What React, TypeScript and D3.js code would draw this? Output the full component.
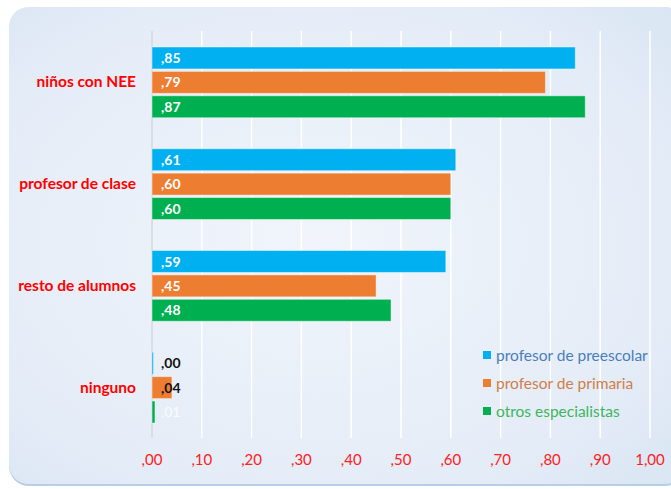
import React from "react";
import * as d3 from "d3";

const categories = ["niños con NEE", "profesor de clase", "resto de alumnos", "ninguno"];
const seriesNames = ["profesor de preescolar", "profesor de primaria", "otros especialistas"];
const preescolar = [0.85, 0.61, 0.59, 0.0];
const primaria = [0.79, 0.6, 0.45, 0.04];
const especialistas = [0.87, 0.6, 0.48, 0.006];
const ticks = [0, 0.1, 0.2, 0.3, 0.4, 0.5, 0.6, 0.7, 0.8, 0.9, 1.0];

const W = 671;
const H = 489;
const barColors = ["#00B0F0", "#ED7D31", "#00B050"];
const legendText = ["#4A7EBB", "#D07E48", "#3DB65C"];
const FONT = "Lato, 'Open Sans', sans-serif";

const fmt = (v: number) => {
  const s = v.toFixed(2).replace(".", ",");
  return s.startsWith("0") ? s.slice(1) : s;
};

export default function App() {
  const series = [preescolar, primaria, especialistas];
  const x = d3.scaleLinear().domain([0, 1]).range([152, 650]);
  const y = d3.scaleBand<string>().domain(categories).range([31, 438]).paddingInner(0).paddingOuter(0);
  const inner = d3
    .scaleBand<number>()
    .domain([0, 1, 2])
    .range([16, y.bandwidth() - 15])
    .paddingInner(0.1);

  const labelStyle = (ci: number, si: number) => {
    const v = series[si][ci];
    if (ci === 3 && si < 2) return { fill: "#111", weight: 700 };
    if (v < 0.02) return { fill: "rgba(255,255,255,0.8)", weight: 400 };
    return { fill: "#fff", weight: 700 };
  };

  return (
    <svg width={W} height={H} style={{ position: "absolute", left: 0, top: 0 }} fontFamily={FONT}>
      <defs>
        <radialGradient id="bg" cx="0.45" cy="0.5" r="0.75">
          <stop offset="0" stopColor="#F1F5FB" />
          <stop offset="0.7" stopColor="#E4ECF7" />
          <stop offset="1" stopColor="#D9E5F3" />
        </radialGradient>
        <linearGradient id="edge" x1="0" y1="0" x2="0" y2="1">
          <stop offset="0" stopColor="#E8EEF7" />
          <stop offset="1" stopColor="#B9CDE8" />
        </linearGradient>
      </defs>
      <rect x={9} y={7} width={676} height={479} rx={20} fill="url(#edge)" />
      <rect x={9} y={7} width={676} height={477} rx={20} fill="url(#bg)" />

      {ticks.map((t) => (
        <line
          key={t}
          x1={x(t)}
          x2={x(t)}
          y1={31}
          y2={438}
          stroke={t === 0 ? "#D4D8DE" : "#FFFFFF"}
          strokeWidth={1.5}
        />
      ))}

      {categories.map((c, ci) => (
        <g key={c} transform={`translate(0,${y(c)})`}>
          {series.map((s, si) => {
            const by = inner(si)!;
            const bh = inner.bandwidth();
            const st = labelStyle(ci, si);
            return (
              <g key={si}>
                <rect
                  x={x(0)}
                  y={by}
                  width={Math.max(x(s[ci]) - x(0), 1.5)}
                  height={bh}
                  fill={barColors[si]}
                  stroke="rgba(255,255,255,0.45)"
                  strokeWidth={1}
                />
                <text
                  x={x(0) + 9}
                  y={by + bh / 2}
                  dy="0.36em"
                  fontSize={14}
                  fontWeight={st.weight}
                  fill={st.fill}
                >
                  {fmt(s[ci])}
                </text>
              </g>
            );
          })}
          <text
            x={136}
            y={y.bandwidth() / 2}
            dy="0.36em"
            textAnchor="end"
            fontSize={15.5}
            fontWeight={700}
            fill="#FF0000"
          >
            {c}
          </text>
        </g>
      ))}

      {ticks.map((t) => (
        <text key={t} x={x(t)} y={460} dy="0.36em" textAnchor="middle" fontSize={15} fill="#FF2020">
          {fmt(t)}
        </text>
      ))}

      {seriesNames.map((n, i) => (
        <g key={n} transform={`translate(483,${355 + i * 28})`}>
          <rect x={0} y={-4} width={8} height={8} fill={barColors[i]} />
          <text x={13} y={0} dy="0.36em" fontSize={15.5} fill={legendText[i]}>
            {n}
          </text>
        </g>
      ))}
    </svg>
  );
}
